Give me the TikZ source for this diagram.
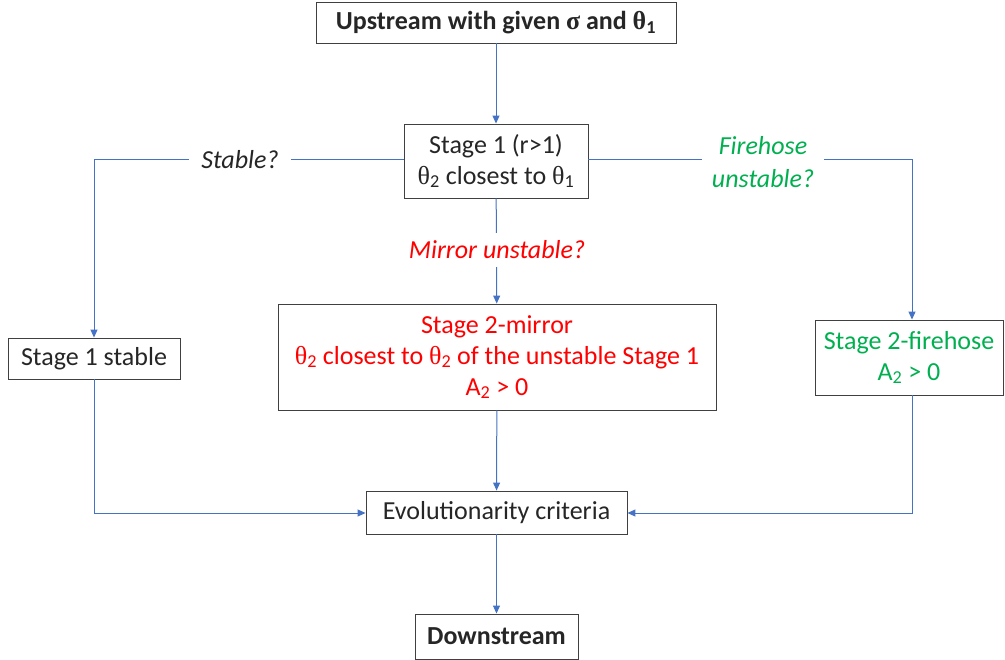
\documentclass[tikz,border=0pt]{standalone}
\usepackage{fontspec}
\setmainfont{Carlito}
\newfontfamily\grk{Liberation Serif}
\usetikzlibrary{arrows.meta}
\definecolor{lineblue}{HTML}{4472C4}
\definecolor{fgreen}{HTML}{00B050}
\definecolor{txtgray}{HTML}{262626}
\newcommand{\thx}{{\grk θ}}
\newcommand{\sg}{{\grk σ}}
\tikzset{
  x=1pt, y=-1pt,
  box/.style={draw=black!75, line width=0.9pt, fill=white, align=center, inner sep=0pt,
    font=\fontsize{26}{31}\selectfont, text=txtgray},
  conn/.style={draw=lineblue, line width=1pt, -{Triangle[length=8pt,width=7pt]}},
  lab/.style={fill=white, inner sep=3pt, align=center, font=\fontsize{26}{33}\selectfont\itshape}
}
\begin{document}
\begin{tikzpicture}
\useasboundingbox (0,0) rectangle (1005,660);
\node[box, minimum width=360pt, minimum height=41pt, font=\fontsize{26}{31}\selectfont\bfseries] (up) at (496,22.5) {Upstream with given \sg{} and \thx\textsubscript{1}};
\node[box, minimum width=184pt, minimum height=74pt] (s1) at (496,161) {Stage 1 (r>1)\\\thx\textsubscript{2} closest to \thx\textsubscript{1}};
\node[box, minimum width=172pt, minimum height=41pt] (st) at (94,358.5) {Stage 1 stable};
\node[box, minimum width=438pt, minimum height=106pt, text=red] (mir) at (497,357) {Stage 2-mirror\\\thx\textsubscript{2} closest to \thx\textsubscript{2} of the unstable Stage 1\\A\textsubscript{2} > 0};
\node[box, minimum width=188pt, minimum height=75pt, text=fgreen] (fh) at (909,357.5) {Stage 2-firehose\\A\textsubscript{2} > 0};
\node[box, minimum width=261pt, minimum height=43pt] (ev) at (496.5,512.5) {Evolutionarity criteria};
\node[box, minimum width=163pt, minimum height=45pt, font=\fontsize{26}{31}\selectfont\bfseries] (down) at (496.5,636.5) {Downstream};
\coordinate (lc) at (94,160);
\coordinate (rc) at (912,160);
\coordinate (lb) at (94,513);
\coordinate (rb) at (912,513);
\draw[conn] (up) -- (s1);
\draw[conn] (s1.west |- 0,160) -- (lc) -- (st.north);
\draw[conn] (s1.east |- 0,160) -- (rc) -- (rc |- fh.north);
\draw[conn] (s1) -- (mir);
\draw[conn] (st.south) -- (lb) -- (ev.west |- lb);
\draw[conn] (mir) -- (ev);
\draw[conn] (rb |- fh.south) -- (rb) -- (ev.east |- rb);
\draw[conn] (ev) -- (down);
\node[lab, text=txtgray, inner xsep=12pt] (lst) at (240,160) {Stable?};
\node[lab, text=fgreen, inner xsep=10pt] (lfh) at (763,162) {Firehose\\unstable?};
\node[lab, text=red, inner ysep=8pt] (lmi) at (497,250) {Mirror unstable?};
\end{tikzpicture}
\end{document}
